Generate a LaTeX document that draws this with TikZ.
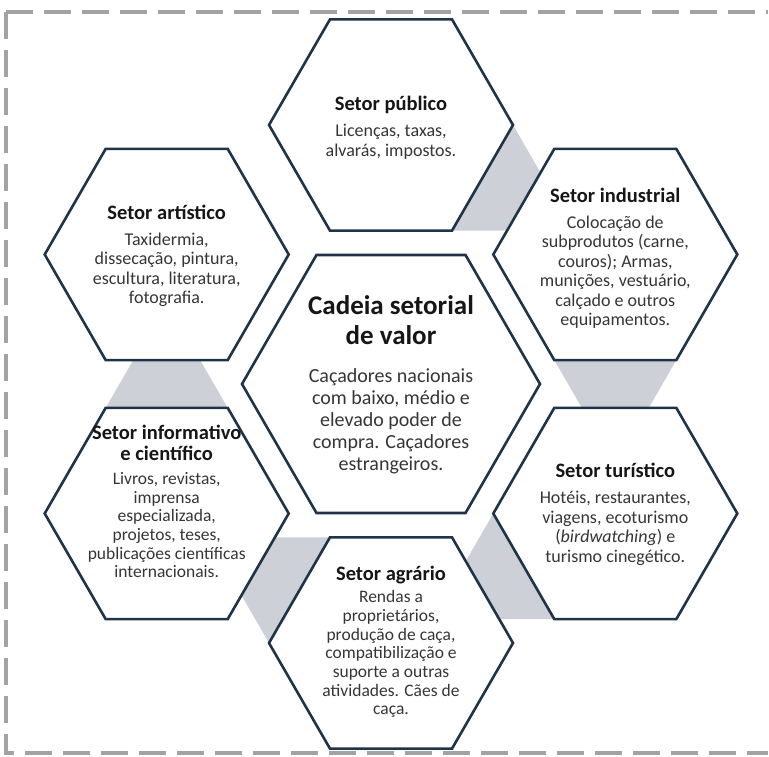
\documentclass[tikz,border=0pt]{standalone}
\usepackage{fontspec}
\setmainfont{Carlito}
\usetikzlibrary{calc}
\definecolor{hexc}{HTML}{1F3447}
\definecolor{connc}{HTML}{CDD1D7}
\definecolor{dashc}{HTML}{A3A3A3}
\definecolor{titc}{HTML}{161616}
\definecolor{bodc}{HTML}{363636}
\newcommand{\ttl}[1]{{\fontsize{20.5}{22}\selectfont\bfseries\color{titc}#1}}
\newcommand{\ctl}[1]{{\fontsize{27}{30}\selectfont\bfseries\color{titc}#1}}
\begin{document}
\begin{tikzpicture}[x=1pt,y=1pt,
  hexline/.style={draw=hexc, line width=2.6pt, fill=white, line join=miter},
  conn/.style={fill=connc},
  border/.style={draw=dashc, line width=4pt, dash pattern=on 27pt off 11pt},
  txt/.style={align=center, inner sep=0pt, text=bodc, font=\fontsize{18}{19.5}\selectfont},
  tighttxt/.style={align=center, inner sep=0pt, text=bodc, font=\fontsize{17.5}{18.7}\selectfont},
  ctxt/.style={align=center, inner sep=0pt, text=bodc, font=\fontsize{20}{22}\selectfont}]
\useasboundingbox (0,0) rectangle (769,757);
\fill[white] (0,0) rectangle (769,757);
% dashed frame (open on the right)
\draw[border] (6,745) -- (768,745);
\draw[border] (6,745) -- (6,4) -- (768,4);
% hexagon centres
\coordinate (cad) at (391,373);
\coordinate (pub) at (391,632);
\coordinate (ind) at (615.3,502.5);
\coordinate (tur) at (615.3,243.5);
\coordinate (agr) at (391,114);
\coordinate (inf) at (166.7,243.5);
\coordinate (art) at (166.7,502.5);
% grey links
\foreach \P/\Q/\t in {pub/ind/90, ind/tur/30, tur/agr/-30, agr/inf/-90, inf/art/-150}{
  \fill[conn] ($(\P)+({\t-90}:122pt)$) -- ($(\Q)+({\t+42.4}:110.9pt)$)
     -- ($(\Q)+({\t+77.6}:110.9pt)$) -- ($(\P)+({\t-150}:122pt)$) -- cycle;
}
% hexagons
\foreach \n/\rr in {pub/122, ind/122, tur/122, agr/122, inf/122, art/122, cad/149}{
  \draw[hexline] ($(\n)+(0:\rr pt)$) -- ($(\n)+(60:\rr pt)$) -- ($(\n)+(120:\rr pt)$)
     -- ($(\n)+(180:\rr pt)$) -- ($(\n)+(240:\rr pt)$) -- ($(\n)+(300:\rr pt)$) -- cycle;
}
% texts
\node[ctxt] (cadT) at ($(cad)+(0,-1)$) {\ctl{Cadeia setorial}\\[8pt]\ctl{de valor}\\[16pt]
  Caçadores nacionais\\ com baixo, médio e\\ elevado poder de\\ compra. Caçadores\\ estrangeiros.};
\node[txt] (pubT) at ($(pub)+(0,-3)$) {\ttl{Setor público}\\[6.5pt]
  Licenças, taxas,\\ alvarás, impostos.};
\node[txt] (indT) at ($(ind)+(0,-4)$) {\ttl{Setor industrial}\\[6.5pt]
  Colocação de\\ subprodutos (carne,\\ couros); Armas,\\ munições, vestuário,\\ calçado e outros\\ equipamentos.};
\node[txt] (turT) at ($(tur)+(0,-1)$) {\ttl{Setor turístico}\\[6.5pt]
  Hotéis, restaurantes,\\ viagens, ecoturismo\\ (\textit{birdwatching}) e\\ turismo cinegético.};
\node[tighttxt] (agrT) at ($(agr)+(0,1)$) {\ttl{Setor agrário}\\[3.5pt]
  Rendas a\\ proprietários,\\ produção de caça,\\ compatibilização e\\ suporte a outras\\ atividades. Cães de\\ caça.};
\node[tighttxt] (infT) at ($(inf)+(0,12)$) {\ttl{Setor informativo}\\[2.5pt]\ttl{e científico}\\[5pt]
  Livros, revistas,\\ imprensa\\ especializada,\\ projetos, teses,\\ publicações científicas\\ internacionais.};
\node[txt] (artT) at ($(art)+(0,-1.5)$) {\ttl{Setor artístico}\\[6.5pt]
  Taxidermia,\\ dissecação, pintura,\\ escultura, literatura,\\ fotografia.};
\end{tikzpicture}
\end{document}
